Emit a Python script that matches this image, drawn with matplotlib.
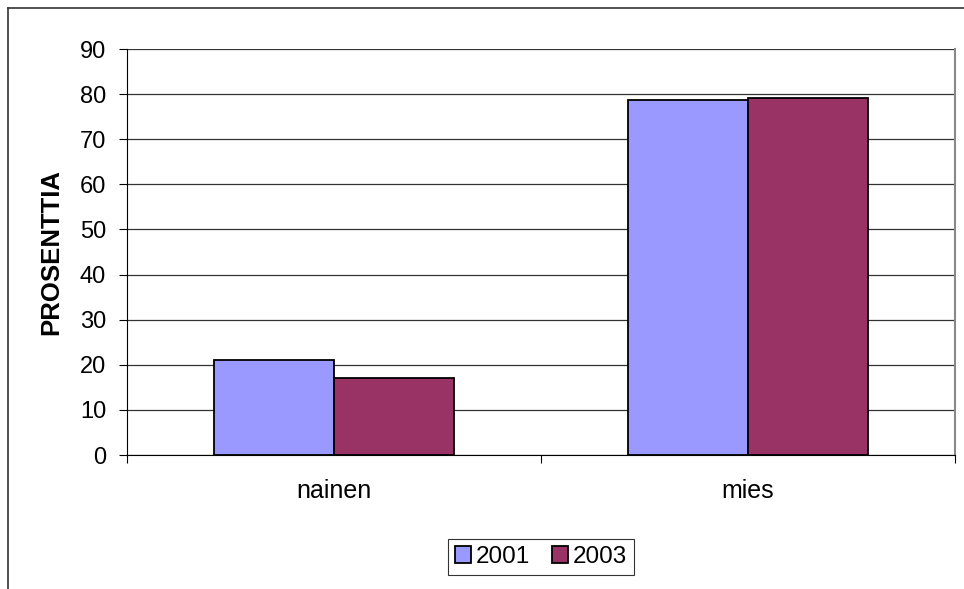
import matplotlib.pyplot as plt
import numpy as np
from matplotlib.lines import Line2D

# data
categories = ['nainen', 'mies']
years = ['2001', '2003']
values_2001 = [21.0, 78.7]
values_2003 = [17.0, 79.1]
colors = ['#9999FF', '#993366']

plt.rcParams['font.family'] = ['Liberation Sans', 'DejaVu Sans']

fig = plt.figure(figsize=(9.64, 5.89), dpi=100)
ax = fig.add_axes([127 / 964, 1 - 455 / 589, (955 - 127) / 964, (455 - 49) / 589])

x = np.arange(len(categories))
w = 0.289
ax.bar(x - w / 2, values_2001, w, color=colors[0], edgecolor='black', linewidth=1.3, label=years[0], zorder=3)
ax.bar(x + w / 2, values_2003, w, color=colors[1], edgecolor='black', linewidth=1.3, label=years[1], zorder=3)

ax.set_xlim(-0.5, len(categories) - 0.5)
ax.set_ylim(0, 90)
ax.set_yticks(range(0, 91, 10))
ax.yaxis.grid(True, color='#333333', linewidth=0.9, zorder=0)

# category labels between the boundary ticks
ax.set_xticks([-0.5, 0.5, 1.5])
ax.set_xticklabels([])
ax.set_xticks(x, minor=True)
ax.set_xticklabels(categories, minor=True, fontsize=18)
ax.tick_params(axis='x', which='minor', length=0, pad=17)
ax.tick_params(axis='x', which='major', length=6, direction='out', color='black')
ax.tick_params(axis='y', length=6, direction='out', labelsize=17, pad=9)

ax.spines['top'].set_visible(False)
ax.spines['right'].set_color('#888888')
ax.spines['right'].set_linewidth(1.5)
ax.spines['left'].set_color('black')
ax.spines['bottom'].set_color('black')

ax.set_ylabel('PROSENTTIA', fontsize=18.5, fontweight='bold', labelpad=12)

leg = ax.legend(loc='center', bbox_to_anchor=(541 / 964, 1 - 557 / 589), bbox_transform=fig.transFigure,
                ncol=2, fontsize=17.5, frameon=True, fancybox=False, edgecolor='black',
                handlelength=0.65, handleheight=0.65, handletextpad=0.2, columnspacing=0.9,
                borderpad=0.3, borderaxespad=0)
leg.get_frame().set_linewidth(0.8)

# outer chart frame (cut off at right and bottom)
fig.add_artist(Line2D([8 / 964, 1], [1 - 8 / 589, 1 - 8 / 589], color='#333333', linewidth=1.2))
fig.add_artist(Line2D([8 / 964, 8 / 964], [0, 1 - 8 / 589], color='#333333', linewidth=1.2))

fig.savefig('out.png', dpi=100)
